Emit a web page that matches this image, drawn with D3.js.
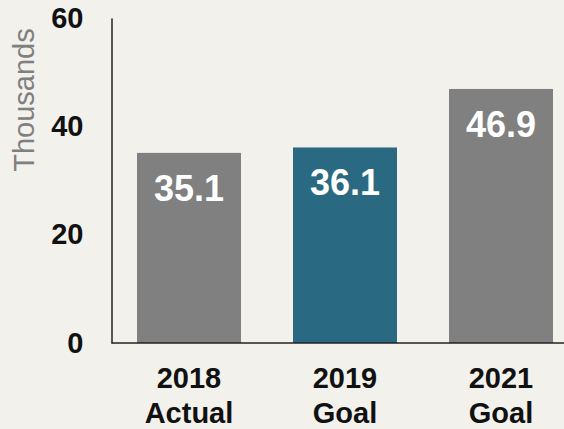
<!DOCTYPE html>
<html>
<head>
<meta charset="utf-8">
<script src="https://cdn.jsdelivr.net/npm/d3@7"></script>
<style>
  body { margin: 0; background: #f2f1ec; }
  svg { display: block; font-family: "Liberation Sans", Arial, sans-serif; }
</style>
</head>
<body>
<div id="chart"></div>
<script>
// values (thousands)
const years = ["2018", "2019", "2021"]
const kinds = ["Actual", "Goal", "Goal"]
const values = [35.1, 36.1, 46.9]
const barColors = ["#808080", "#296a82", "#808080"]
const yTicks = [0, 20, 40, 60]

const width = 564, height = 429

const svg = d3.select("#chart")
    .append("svg")
    .attr("width", width)
    .attr("height", height)

const x = d3.scaleBand()
    .domain(years)
    .range([111, 579])
    .paddingInner(1 / 3)
    .paddingOuter(1 / 6)

const y = d3.scaleLinear()
    .domain([0, 60])
    .range([343, 18])

// bars
svg.append("g")
  .selectAll("rect")
  .data(values)
  .enter()
  .append("rect")
    .attr("x", (d, i) => x(years[i]))
    .attr("y", d => y(d))
    .attr("width", x.bandwidth())
    .attr("height", d => y(0) - y(d))
    .style("fill", (d, i) => barColors[i])

// value labels inside bars
svg.append("g")
  .selectAll("text")
  .data(values)
  .enter()
  .append("text")
    .attr("x", (d, i) => x(years[i]) + x.bandwidth() / 2)
    .attr("y", d => y(d) + 48)
    .attr("text-anchor", "middle")
    .style("font-size", "36px")
    .style("font-weight", "bold")
    .style("fill", "#fff")
    .text(d => d.toFixed(1))

// y axis
const yAxis = svg.append("g")
    .attr("transform", "translate(111.5,0)")
    .call(d3.axisLeft(y).tickValues(yTicks).tickSize(0).tickPadding(28))
yAxis.select(".domain").attr("stroke", "#222").attr("stroke-width", 1.5)
yAxis.selectAll("text")
    .style("font-size", "29px")
    .style("font-weight", "bold")
    .style("fill", "#111")
    .style("font-family", "Liberation Sans, Arial, sans-serif")

// x axis line
svg.append("line")
    .attr("x1", 111.5).attr("x2", width)
    .attr("y1", y(0)).attr("y2", y(0))
    .attr("stroke", "#222")
    .attr("stroke-width", 1.5)

// category labels, two lines
const cat = svg.append("g")
  .selectAll("text")
  .data(years)
  .enter()
  .append("text")
    .attr("text-anchor", "middle")
    .style("font-size", "29px")
    .style("font-weight", "bold")
    .style("fill", "#111")
cat.append("tspan")
    .attr("x", d => x(d) + x.bandwidth() / 2)
    .attr("y", 388)
    .text(d => d)
cat.append("tspan")
    .attr("x", d => x(d) + x.bandwidth() / 2)
    .attr("y", 423)
    .text((d, i) => kinds[i])

// axis title
svg.append("text")
    .attr("transform", `translate(34,${100}) rotate(-90)`)
    .attr("text-anchor", "middle")
    .style("font-size", "29px")
    .style("fill", "#808080")
    .text("Thousands")
</script>
</body>
</html>
